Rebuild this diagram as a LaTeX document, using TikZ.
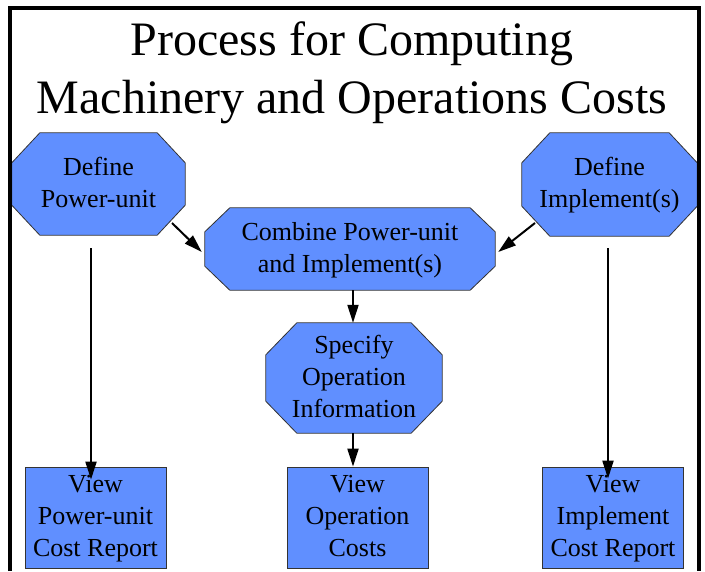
\documentclass[tikz,border=0pt]{standalone}
\usepackage{fontspec}
\setmainfont{Liberation Serif}
\usetikzlibrary{arrows.meta,backgrounds}
\tikzset{
  flow/.style={
    draw=black!80,
    line width=0.8pt,
    fill=flowblue
  },
  flow-text/.style={
    rectangle,
    inner sep=0pt,
    align=center,
    font=\fontsize{26}{32}\selectfont,
    text depth=3.6pt
  },
  flow-box/.style={
    flow,
    flow-text,
    minimum width=141pt,
    minimum height=101pt
  },
  flow-arrow/.style={line width=2pt, -{Triangle[length=18pt,width=11pt]}},
  title-line/.style={font=\fontsize{48}{60}\selectfont, anchor=base, inner sep=0pt}
}
\definecolor{flowblue}{RGB}{96,143,255}
% octagon round a named node: node, x cut, y cut
\newcommand{\octframe}[3]{
  \draw[flow] ([xshift=#2]#1.north west) -- ([xshift=-#2]#1.north east)
    -- ([yshift=-#3]#1.north east) -- ([yshift=#3]#1.south east)
    -- ([xshift=-#2]#1.south east) -- ([xshift=#2]#1.south west)
    -- ([yshift=#3]#1.south west) -- ([yshift=-#3]#1.north west) -- cycle;
}

\begin{document}
\begin{tikzpicture}[x=1pt,y=-1pt]
  \useasboundingbox (0,0) rectangle (705,571);
  % Frame
  \draw[line width=4pt] (9.5,571) -- (9.5,7.5) -- (698.5,7.5) -- (698.5,571);
  % Title
  \node[title-line] (title1) at (352,55) {Process for Computing};
  \node[title-line] (title2) at (352,113) {Machinery and Operations Costs};
  % Steps
  \node[flow-text, minimum width=173pt, minimum height=102pt] (pu) at (98.5,184) {Define\\Power-unit};
  \node[flow-text, minimum width=175pt, minimum height=103pt] (im) at (609.5,184.5) {Define\\Implement(s)};
  \node[flow-text, minimum width=290pt, minimum height=82pt] (comb) at (350,249) {Combine Power-unit\\and Implement(s)};
  \node[flow-text, minimum width=176pt, minimum height=110pt] (spec) at (354,378) {Specify\\Operation\\Information};
  \begin{scope}[on background layer]
    \octframe{pu}{28pt}{30pt}
    \octframe{im}{28pt}{30pt}
    \octframe{comb}{25pt}{24pt}
    \octframe{spec}{31pt}{32pt}
  \end{scope}
  % Reports
  \node[flow-box] (vpu) at (95.5,517.5) {View\\Power-unit\\Cost Report};
  \node[flow-box] (vop) at (357.5,517.5) {View\\Operation\\Costs};
  \node[flow-box] (vim) at (613,517.5) {View\\Implement\\Cost Report};
  % Arrows
  \draw[flow-arrow] ([shift={(73.5,39)}]pu.center) -- ([shift={(-3pt,-3pt)}]comb.west);
  \draw[flow-arrow] ([shift={(-74.5,38.5)}]im.center) -- ([shift={(3pt,-3pt)}]comb.east);
  \draw[flow-arrow] ([xshift=3pt]comb.south) -- ([xshift=3pt]comb.south |- spec.north);
  \draw[flow-arrow] ([xshift=-1pt]spec.south) -- ([xshift=-1pt]spec.south |- vop.north);
  \draw[flow-arrow] ([shift={(-7.5,13)}]pu.south) -- ([shift={(-7.5,13)}]pu.south |- vpu.north);
  \draw[flow-arrow] ([shift={(-1.5,12)}]im.south) -- ([shift={(-1.5,12)}]im.south |- vim.north);
\end{tikzpicture}
\end{document}
